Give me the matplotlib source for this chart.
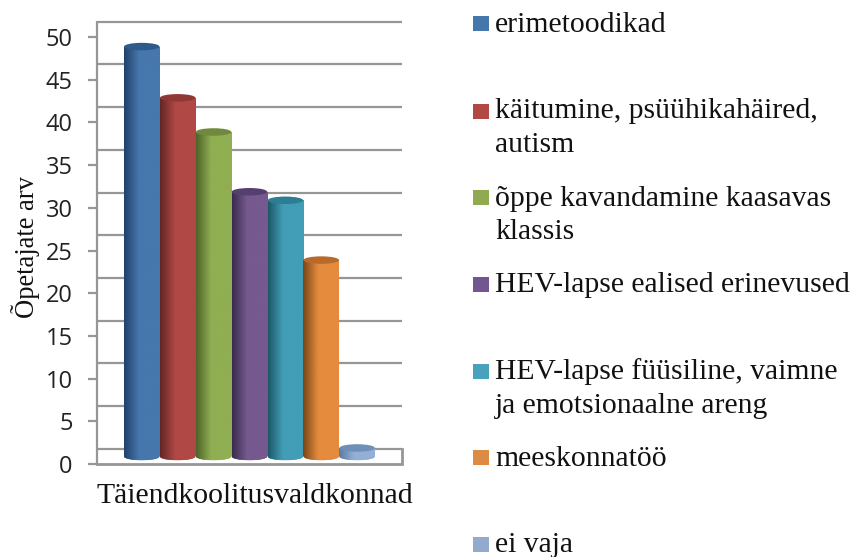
import numpy as np
import matplotlib
matplotlib.use('Agg')
import matplotlib.pyplot as plt
from matplotlib.colors import LinearSegmentedColormap
from matplotlib.patches import Ellipse, Rectangle

categories = ['erimetoodikad', 'käitumine, psüühikahäired,\nautism',
              'õppe kavandamine kaasavas\nklassis', 'HEV-lapse ealised erinevused',
              'HEV-lapse füüsiline, vaimne\nja emotsionaalne areng', 'meeskonnatöö', 'ei vaja']
values = [48, 42, 38, 31, 30, 23, 1]
colors = ['#4677ad', '#b04845', '#90ae52', '#75598f', '#429eb7', '#e58b3e', '#93afd6']
dark_colors = ['#21426a', '#632725', '#4f6329', '#3a2c4f', '#1c5868', '#794617', '#5b7aa3']
top_colors = ['#2f5a8c', '#8f3835', '#6f8a3c', '#553f70', '#2d7d93', '#b9692a', '#6f8fb9']
swatch_colors = ['#4677ab', '#b24845', '#90aa52', '#73558f', '#47a2ba', '#dd8a42', '#93a9cf']
yticks = [0, 5, 10, 15, 20, 25, 30, 35, 40, 45, 50]
xlabel = 'Täiendkoolitusvaldkonnad'
ylabel = 'Õpetajate arv'
wall_color = '#969696'

W, H = 853, 557
SERIF = 'Liberation Serif'

fig = plt.figure(figsize=(W / 100, H / 100), dpi=100)
ax = fig.add_axes([97 / W, 1 - 464 / H, 305 / W, 443 / H])
px_per_unit = 8.54
ymax = 443 / px_per_unit

# the back wall sits higher than the front edge of the floor
wall_shift = 15.3 / px_per_unit
base = 7.5 / px_per_unit
bar_width = 35.5
first_left = 124
step = 35.9
cap_h = 7.5 / px_per_unit

for s in ax.spines.values():
    s.set_visible(False)
ax.patch.set_alpha(0)
ax.plot([97, 97], [0, ymax], color=wall_color, lw=1.6, clip_on=False, solid_capstyle='butt')
ax.plot([97, 402, 402], [0, 0, wall_shift], color=wall_color, lw=2, clip_on=False, solid_joinstyle='miter')
for t in yticks:
    ax.hlines(t + wall_shift, 97, 402, color=wall_color, lw=1.6, clip_on=False)

# cylinders: horizontal shading clipped to the body outline
grad = np.linspace(0, 1, 64).reshape(1, -1)
for i, (v, c, d, tc) in enumerate(zip(values, colors, dark_colors, top_colors)):
    left = first_left + i * step
    cmap = LinearSegmentedColormap.from_list('c%d' % i, [(0, d), (0.42, c), (0.85, c), (1, c)])
    body = Rectangle((left, base), bar_width, v, transform=ax.transData, fc='none', ec='none')
    ax.add_patch(body)
    im = ax.imshow(grad, cmap=cmap, aspect='auto', extent=[left, left + bar_width, base, base + v], zorder=3)
    im.set_clip_path(body)
    foot = Ellipse((left + bar_width / 2, base), bar_width, cap_h, fc=c, ec='none', zorder=2.9)
    ax.add_patch(foot)
    im2 = ax.imshow(grad, cmap=cmap, aspect='auto', extent=[left, left + bar_width, base - cap_h / 2, base], zorder=2.95)
    im2.set_clip_path(foot)
    ax.add_patch(Ellipse((left + bar_width / 2, base + v), bar_width, cap_h, fc=tc, ec='none', zorder=4))
ax.set_xlim(97, 402)
ax.set_ylim(0, ymax)

ax.set_xticks([])
ax.set_yticks(yticks)
ax.tick_params(axis='y', length=6.5, width=1.6, color=wall_color, pad=11, labelsize=17, labelcolor='#222222')
for lab in ax.get_yticklabels():
    lab.set_family('Open Sans')

fig.text(255 / W, 1 - 503 / H, xlabel, family=SERIF, fontsize=21.4, color='#111111', ha='center', va='baseline')
fig.text(26 / W, 1 - 247.5 / H, ylabel, family=SERIF, fontsize=19.1, color='#111111', rotation=90, ha='center', va='center')

# legend rows are spaced by hand, the entries are not evenly filled
swatch_rows = [23.5, 111, 197, 284, 371, 457, 544]
text_rows = [32, 118, 205.5, 292, 379, 466.5, 552.5]
for name, c, y, ty in zip(categories, swatch_colors, swatch_rows, text_rows):
    fig.patches.append(Rectangle((473 / W, 1 - (y + 7.5) / H), 16 / W, 15 / H, transform=fig.transFigure, fc=c, ec='none'))
    for j, line in enumerate(name.split('\n')):
        fig.text(495 / W, 1 - (ty + j * 34) / H, line, family=SERIF, fontsize=21.3, color='#111111', ha='left', va='baseline')

fig.savefig('out.png', dpi=100)
